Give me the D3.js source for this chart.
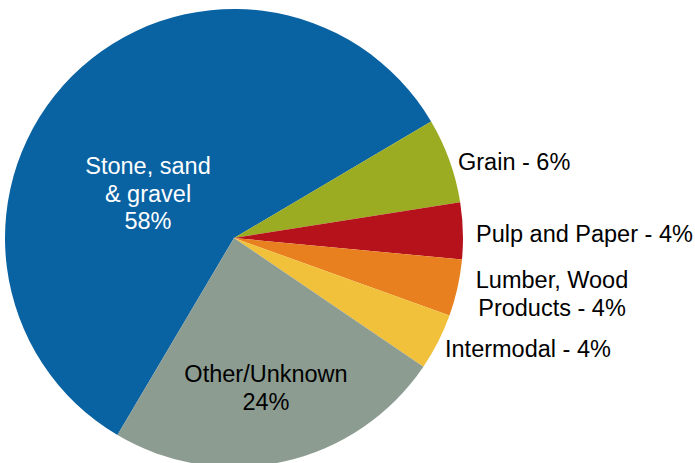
<!DOCTYPE html>
<html>
<head>
<meta charset="utf-8">
<script src="https://cdn.jsdelivr.net/npm/d3@7"></script>
<style>
  html, body { margin: 0; padding: 0; background: #ffffff; }
  svg { display: block; }
</style>
</head>
<body>
<svg id="chart" width="695" height="463"></svg>
<script>
// Data
const categories = ["Stone, sand & gravel", "Grain", "Pulp and Paper", "Lumber, Wood Products", "Intermodal", "Other/Unknown"];
const shares = [58, 6, 4, 4, 4, 24];
const colors = ["#0962a2", "#9bac23", "#b5121b", "#e8801f", "#f1c13b", "#8c9c91"];
const labelLines = [
  ["Stone, sand", "& gravel", "58%"],
  ["Grain - 6%"],
  ["Pulp and Paper - 4%"],
  ["Lumber, Wood", "Products - 4%"],
  ["Intermodal - 4%"],
  ["Other/Unknown", "24%"]
];

const svg = d3.select("#chart");
const cx = 234, cy = 238, r = 229;
const startDeg = 210.6;

const pie = d3.pie().sort(null).value(d => d)
  .startAngle(startDeg * Math.PI / 180)
  .endAngle((startDeg + 360) * Math.PI / 180);
const arcs = pie(shares);
const arc = d3.arc().innerRadius(0).outerRadius(r);

const g = svg.append("g").attr("transform", `translate(${cx},${cy})`);
g.selectAll("path").data(arcs).enter().append("path")
  .attr("d", arc)
  .attr("fill", (d, i) => colors[i]);

const font = "'Liberation Sans', Arial, sans-serif";
const fs = 23.5;
const lh = 27.5;
const labelPos = [
  { x: 148, y: 174, anchor: "middle", fill: "#ffffff" },
  { x: 458, y: 170, anchor: "start", fill: "#000000" },
  { x: 476, y: 242, anchor: "start", fill: "#000000" },
  { x: 552, y: 288, anchor: "middle", fill: "#000000" },
  { x: 445, y: 357, anchor: "start", fill: "#000000" },
  { x: 266, y: 382, anchor: "middle", fill: "#000000" }
];

labelLines.forEach((lines, i) => {
  const p = labelPos[i];
  const t = svg.append("text")
    .attr("x", p.x).attr("y", p.y)
    .attr("text-anchor", p.anchor)
    .attr("fill", p.fill)
    .style("font-family", font)
    .style("font-size", fs + "px");
  lines.forEach((ln, j) => {
    t.append("tspan").attr("x", p.x).attr("y", p.y + j * lh).text(ln);
  });
});
</script>
</body>
</html>
